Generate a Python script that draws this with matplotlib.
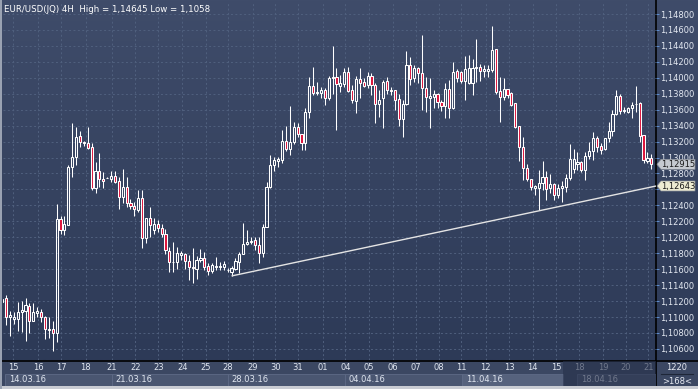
import numpy as np
import matplotlib
matplotlib.use("Agg")
import matplotlib.pyplot as plt
import matplotlib.transforms as mtransforms
from matplotlib.patches import Rectangle, Polygon
from matplotlib.ticker import MultipleLocator, FuncFormatter

plt.rcParams['font.family'] = ['DejaVu Sans']

# ------------------------------------
# data: EUR/USD 4H candles
# ------------------------------------
opens = [
    1.11190, 1.11234, 1.10996, 1.10979, 1.10975, 1.11067, 1.11080, 1.11138, 1.10954, 1.11054,
    1.11063, 1.10996, 1.10854, 1.10850, 1.10795, 1.12233, 1.12091, 1.12154, 1.12877, 1.13011,
    1.13270, 1.13195, 1.13178, 1.13128, 1.12622, 1.12831, 1.12727, 1.12747, 1.12731, 1.12768,
    1.12701, 1.12501, 1.12626, 1.12426, 1.12396, 1.12342, 1.12488, 1.11995, 1.12237, 1.12091,
    1.12162, 1.12120, 1.12037, 1.11832, 1.11694, 1.11686, 1.11778, 1.11786, 1.11703, 1.11632,
    1.11598, 1.11715, 1.11736, 1.11640, 1.11577, 1.11632, 1.11627, 1.11632, 1.11590, 1.11569,
    1.11602, 1.11694, 1.11786, 1.11916, 1.11937, 1.11966, 1.11903, 1.11799, 1.12125, 1.12635,
    1.12907, 1.12961, 1.12969, 1.13212, 1.13103, 1.13199, 1.13379, 1.13295, 1.13178, 1.13575,
    1.13897, 1.13805, 1.13805, 1.13847, 1.13743, 1.13993, 1.14010, 1.13901, 1.13918, 1.14068,
    1.13847, 1.13713, 1.13980, 1.13951, 1.13909, 1.14022, 1.13909, 1.13667, 1.13742, 1.13959,
    1.13847, 1.13847, 1.13734, 1.13479, 1.13667, 1.14160, 1.14001, 1.14127, 1.14056, 1.13867,
    1.13750, 1.13763, 1.13792, 1.13692, 1.13650, 1.13859, 1.13617, 1.14085, 1.14068, 1.13959,
    1.13930, 1.13930, 1.14118, 1.14139, 1.14085, 1.14085, 1.14097, 1.14361, 1.13834, 1.13763,
    1.13859, 1.13805, 1.13679, 1.13399, 1.13136, 1.12873, 1.12730, 1.12622, 1.12613, 1.12676,
    1.12751, 1.12613, 1.12663, 1.12530, 1.12613, 1.12634, 1.12739, 1.12856, 1.12914, 1.12948,
    1.12843, 1.13019, 1.13082, 1.13249, 1.13148, 1.13107, 1.13240, 1.13332, 1.13541, 1.13775,
    1.13583, 1.13575, 1.13617, 1.13667, 1.13679, 1.13282, 1.12960, 1.12990,
]
highs = [
    1.11250, 1.11276, 1.11075, 1.11067, 1.11193, 1.11205, 1.11234, 1.11180, 1.11180, 1.11130,
    1.11096, 1.11017, 1.11004, 1.10954, 1.12413, 1.12267, 1.12267, 1.12906, 1.13429, 1.13379,
    1.13337, 1.13211, 1.13379, 1.13186, 1.12948, 1.13053, 1.12823, 1.12752, 1.12835, 1.12835,
    1.12760, 1.12852, 1.12752, 1.12476, 1.12446, 1.12593, 1.12593, 1.12237, 1.12384, 1.12237,
    1.12217, 1.12162, 1.12099, 1.11882, 1.11945, 1.11882, 1.11832, 1.11799, 1.11778, 1.11862,
    1.11765, 1.11849, 1.11811, 1.11682, 1.11682, 1.11749, 1.11694, 1.11707, 1.11611, 1.11640,
    1.11736, 1.11816, 1.12183, 1.12091, 1.12008, 1.12008, 1.12008, 1.12167, 1.12698, 1.13032,
    1.13003, 1.13011, 1.13345, 1.13396, 1.13646, 1.13450, 1.13429, 1.13295, 1.13617, 1.14006,
    1.14140, 1.13952, 1.13889, 1.13868, 1.14023, 1.14398, 1.14118, 1.14035, 1.14127, 1.14139,
    1.13909, 1.14022, 1.14118, 1.14001, 1.14068, 1.14056, 1.13930, 1.13847, 1.13972, 1.14005,
    1.13888, 1.13847, 1.13796, 1.13721, 1.14336, 1.14265, 1.14160, 1.14139, 1.14536, 1.14014,
    1.13993, 1.13847, 1.13805, 1.13721, 1.13930, 1.13972, 1.14202, 1.14106, 1.14085, 1.14277,
    1.14285, 1.14235, 1.14486, 1.14168, 1.14160, 1.14160, 1.14645, 1.14361, 1.14014, 1.13993,
    1.13859, 1.13817, 1.13679, 1.13399, 1.13261, 1.12914, 1.12730, 1.12655, 1.12843, 1.12956,
    1.12831, 1.12789, 1.12676, 1.12663, 1.12705, 1.12789, 1.13165, 1.13107, 1.13065, 1.12956,
    1.13065, 1.13198, 1.13316, 1.13274, 1.13178, 1.13249, 1.13441, 1.13596, 1.13847, 1.13792,
    1.13637, 1.13637, 1.13692, 1.13901, 1.13692, 1.13282, 1.13073, 1.13040,
]
lows = [
    1.11140, 1.10900, 1.10766, 1.10912, 1.10825, 1.10816, 1.10704, 1.10804, 1.10954, 1.11004,
    1.10942, 1.10724, 1.10741, 1.10580, 1.10691, 1.12037, 1.12029, 1.12154, 1.12760, 1.12906,
    1.13136, 1.13145, 1.13103, 1.12593, 1.12551, 1.12635, 1.12622, 1.12742, 1.12689, 1.12676,
    1.12355, 1.12426, 1.12384, 1.12350, 1.12267, 1.12321, 1.11861, 1.11924, 1.12008, 1.12037,
    1.12070, 1.12008, 1.11786, 1.11569, 1.11569, 1.11598, 1.11715, 1.11602, 1.11464, 1.11423,
    1.11473, 1.11694, 1.11590, 1.11523, 1.11548, 1.11590, 1.11590, 1.11590, 1.11569, 1.11515,
    1.11590, 1.11548, 1.11786, 1.11903, 1.11916, 1.11841, 1.11682, 1.11757, 1.12125, 1.12614,
    1.12835, 1.12877, 1.12936, 1.13086, 1.13032, 1.13170, 1.13262, 1.13095, 1.13095, 1.13500,
    1.13784, 1.13784, 1.13743, 1.13659, 1.13722, 1.13800, 1.13345, 1.13826, 1.13888, 1.13826,
    1.13679, 1.13562, 1.13742, 1.13888, 1.13876, 1.13784, 1.13437, 1.13512, 1.13366, 1.13792,
    1.13784, 1.13596, 1.13395, 1.13253, 1.13658, 1.13909, 1.13951, 1.13930, 1.13596, 1.13566,
    1.13374, 1.13617, 1.13617, 1.13587, 1.13491, 1.13500, 1.13608, 1.13951, 1.13930, 1.13721,
    1.13918, 1.13784, 1.13951, 1.13959, 1.14014, 1.14014, 1.14076, 1.13792, 1.13449, 1.13721,
    1.13742, 1.13650, 1.13366, 1.12960, 1.12718, 1.12710, 1.12592, 1.12530, 1.12342, 1.12592,
    1.12467, 1.12550, 1.12467, 1.12496, 1.12438, 1.12571, 1.12718, 1.12801, 1.12843, 1.12814,
    1.12718, 1.12981, 1.12969, 1.13073, 1.13040, 1.13094, 1.13198, 1.13274, 1.13533, 1.13541,
    1.13554, 1.13554, 1.13491, 1.13575, 1.13198, 1.12927, 1.12927, 1.12856,
]
closes = [
    1.11230, 1.10996, 1.11025, 1.11004, 1.11059, 1.11088, 1.11151, 1.10954, 1.11063, 1.11080,
    1.10996, 1.10850, 1.10833, 1.10795, 1.12225, 1.12091, 1.12162, 1.12877, 1.13011, 1.13253,
    1.13191, 1.13178, 1.13124, 1.12622, 1.12831, 1.12727, 1.12701, 1.12747, 1.12768, 1.12693,
    1.12501, 1.12626, 1.12426, 1.12396, 1.12350, 1.12488, 1.11987, 1.12237, 1.12154, 1.12162,
    1.12120, 1.12037, 1.11840, 1.11686, 1.11686, 1.11799, 1.11799, 1.11703, 1.11632, 1.11611,
    1.11715, 1.11736, 1.11632, 1.11577, 1.11653, 1.11644, 1.11640, 1.11661, 1.11590, 1.11611,
    1.11707, 1.11786, 1.11916, 1.11945, 1.11954, 1.11903, 1.11799, 1.12125, 1.12635, 1.12907,
    1.12969, 1.12982, 1.13212, 1.13103, 1.13199, 1.13379, 1.13291, 1.13178, 1.13575, 1.13897,
    1.13814, 1.13826, 1.13847, 1.13743, 1.13993, 1.14010, 1.13918, 1.13930, 1.14068, 1.13834,
    1.13717, 1.13984, 1.13938, 1.13901, 1.14022, 1.13909, 1.13667, 1.13721, 1.13943, 1.13847,
    1.13834, 1.13721, 1.13479, 1.13667, 1.14160, 1.13984, 1.14118, 1.14056, 1.13867, 1.13763,
    1.13771, 1.13792, 1.13692, 1.13650, 1.13859, 1.13625, 1.14076, 1.13993, 1.13959, 1.14110,
    1.14118, 1.14118, 1.14139, 1.14085, 1.14110, 1.14110, 1.14348, 1.13826, 1.13754, 1.13859,
    1.13784, 1.13658, 1.13387, 1.13136, 1.12873, 1.12730, 1.12634, 1.12643, 1.12676, 1.12751,
    1.12605, 1.12663, 1.12530, 1.12622, 1.12643, 1.12739, 1.12981, 1.12981, 1.12948, 1.12843,
    1.13019, 1.13082, 1.13240, 1.13136, 1.13094, 1.13240, 1.13332, 1.13541, 1.13775, 1.13583,
    1.13596, 1.13617, 1.13658, 1.13667, 1.13274, 1.12969, 1.12990, 1.12915,
]

day_labels = ["15", "16", "17", "18", "21", "22", "23", "24", "25", "28", "29", "30", "31", "01",
              "04", "05", "06", "07", "08", "11", "12", "13", "14", "15", "18", "19", "20", "21"]
day_pos = [2.9, 9.2, 15.2, 21.5, 28.2, 34.2, 40.2, 46.3, 52.3, 58.1, 64.4, 70.3, 76.1, 82.4,
           88.3, 94.3, 100.5, 106.4, 112.3, 118.0, 124.4, 130.4, 136.5, 142.5, 148.4, 154.6, 160.5, 166.2]

week_labels = ["14.03.16", "21.03.16", "28.03.16", "04.04.16", "11.04.16", "18.04.16"]
week_start = [0.7, 28.2, 58.0, 88.2, 118.3, 148.0]
week_end = [28.2, 58.0, 88.2, 118.3, 144.3, 168.2]

# support line drawn from the 28.03 low to the right edge
trend_x = [59, 168.2]
trend_y = [1.11515, 1.12643]

title = "EUR/USD(JQ) 4H  High = 1,14645 Low = 1,1058"

# ------------------------------------
# figure layout (698 x 389 px)
# ------------------------------------
W, H = 698, 389
fig = plt.figure(figsize=(W / 100, H / 100), dpi=100)
fig.patch.set_facecolor("#3b4762")

# background axes in pixel coordinates for frames and panels
bg = fig.add_axes([0, 0, 1, 1])
bg.set_xlim(0, W)
bg.set_ylim(H, 0)
bg.axis("off")
grad = np.linspace(0, 1, 256).reshape(-1, 1)
top_col = np.array([0x3f, 0x4c, 0x6a]) / 255
bot_col = np.array([0x2d, 0x3a, 0x57]) / 255
img = top_col + (bot_col - top_col) * grad[:, :, None]
bg.imshow(img, extent=[0, W, 360, 0], aspect="auto", zorder=0)
bg.add_patch(Rectangle((0, 360), W, 29, facecolor="#3b4762", edgecolor="none", zorder=1))
bg.add_patch(Rectangle((0, 386), W, 3, facecolor="#c9ccd3", edgecolor="none", zorder=3))
bg.add_patch(Rectangle((0, 0), 2, H, facecolor="#9aa2b2", edgecolor="none", zorder=3))
bg.plot([0, W], [360.5, 360.5], color="black", lw=1.2, zorder=2)
bg.plot([656, 656], [0, 386], color="black", lw=1.2, zorder=2)
bg.text(677, 368, "1220", color="#e6eaf2", fontsize=6, ha="center", va="center", zorder=4)
bg.plot([661, 693], [374, 374], color="#1e2638", lw=0.8, zorder=4)
bg.text(677, 381, ">168<", color="#e6eaf2", fontsize=6, ha="center", va="center", zorder=4)

# main chart axes
ax = fig.add_axes([3 / W, 29 / H, 653 / W, 357 / H])
ax.patch.set_alpha(0)
ax.set_xlim(0.2, 168.2)
ax.set_ylim(1.10461, 1.14938)
for s in ax.spines.values():
    s.set_visible(False)


def price_fmt(v, p):
    # the 1,12600 level sits under the trend-line tag, so it is not printed
    if abs(v - 1.126) < 1e-6:
        return ""
    return f"{v:.5f}".replace(".", ",")


ax.yaxis.tick_right()
ax.yaxis.set_major_locator(MultipleLocator(0.002))
ax.yaxis.set_major_formatter(FuncFormatter(price_fmt))
ax.tick_params(axis="y", length=2, width=0.7, color="#5f8fd0", pad=1.3,
               labelsize=6, labelcolor="#e4e9f2")
ax.set_xticks(day_pos)
ax.set_xticklabels([])
ax.tick_params(axis="x", length=0)
ax.grid(True, color="#50607e", lw=0.7, linestyle=(0, (2, 2.5)))
ax.set_axisbelow(True)

# ------------------------------------
# candles
# ------------------------------------
o = np.array(opens)
h = np.array(highs)
l = np.array(lows)
c = np.array(closes)
x = np.arange(len(o))
body_top = np.maximum(o, c)
body_bot = np.minimum(o, c)
up = c >= o

ax.vlines(x, body_top, h, color="white", lw=0.75, zorder=3)
ax.vlines(x, l, body_bot, color="white", lw=0.75, zorder=3)
ax.bar(x[up], (body_top - body_bot)[up], bottom=body_bot[up], width=0.55,
       facecolor="none", edgecolor="white", lw=0.75, zorder=4)
ax.bar(x[~up], (body_top - body_bot)[~up], bottom=body_bot[~up], width=0.55,
       facecolor="#dc143c", edgecolor="white", lw=0.75, zorder=4)

ax.plot(trend_x, trend_y, color="#e4e4e4", lw=1.0, zorder=5, solid_capstyle="butt")

# title
ax.text(0.002, 0.993, title, transform=ax.transAxes, color="white", fontsize=6.2,
        ha="left", va="top", zorder=6)

# price tags on the right scale
tr = mtransforms.blended_transform_factory(ax.transAxes, ax.transData)
dy = 5 * (1.14938 - 1.10461) / 357
for val, fc in [(closes[-1], "#c6cad0"), (trend_y[-1], "#eeecd2")]:
    poly = Polygon([(1.0015, val), (1.0077, val + dy), (1.0597, val + dy),
                    (1.0597, val - dy), (1.0077, val - dy)], closed=True,
                   transform=tr, facecolor=fc, edgecolor="#8a8f98", lw=0.5,
                   clip_on=False, zorder=7)
    ax.add_patch(poly)
    ax.text(1.0085, val, f"{val:.5f}".replace(".", ","), transform=tr, color="#1a1a1a",
            fontsize=6, ha="left", va="center", clip_on=False, zorder=8)

# ------------------------------------
# time axis panel
# ------------------------------------
axb = fig.add_axes([3 / W, 3 / H, 653 / W, 25 / H])
axb.set_xlim(0.2, 168.2)
axb.set_ylim(0, 1)
axb.axis("off")
for ws, we, lab in zip(week_start, week_end, week_labels):
    fc = "#56627d" if lab == "11.04.16" else "#4a5671"
    axb.add_patch(Rectangle((ws, 0.0), we - ws, 0.5, facecolor=fc,
                            edgecolor="#5e6a86", lw=0.6))
    axb.text(ws + 1.0, 0.25, lab, color="#e0e6f0", fontsize=6, ha="left", va="center")
for p, lab in zip(day_pos, day_labels):
    axb.text(p, 0.72, lab, color="#e0e6f0", fontsize=6, ha="center", va="center")
axb.add_patch(Rectangle((144.3, 0), 168.2 - 144.3, 1.0, facecolor="#26304a",
                        alpha=0.6, edgecolor="none", zorder=5))

plt.savefig("out.png", dpi=100, facecolor=fig.get_facecolor())
